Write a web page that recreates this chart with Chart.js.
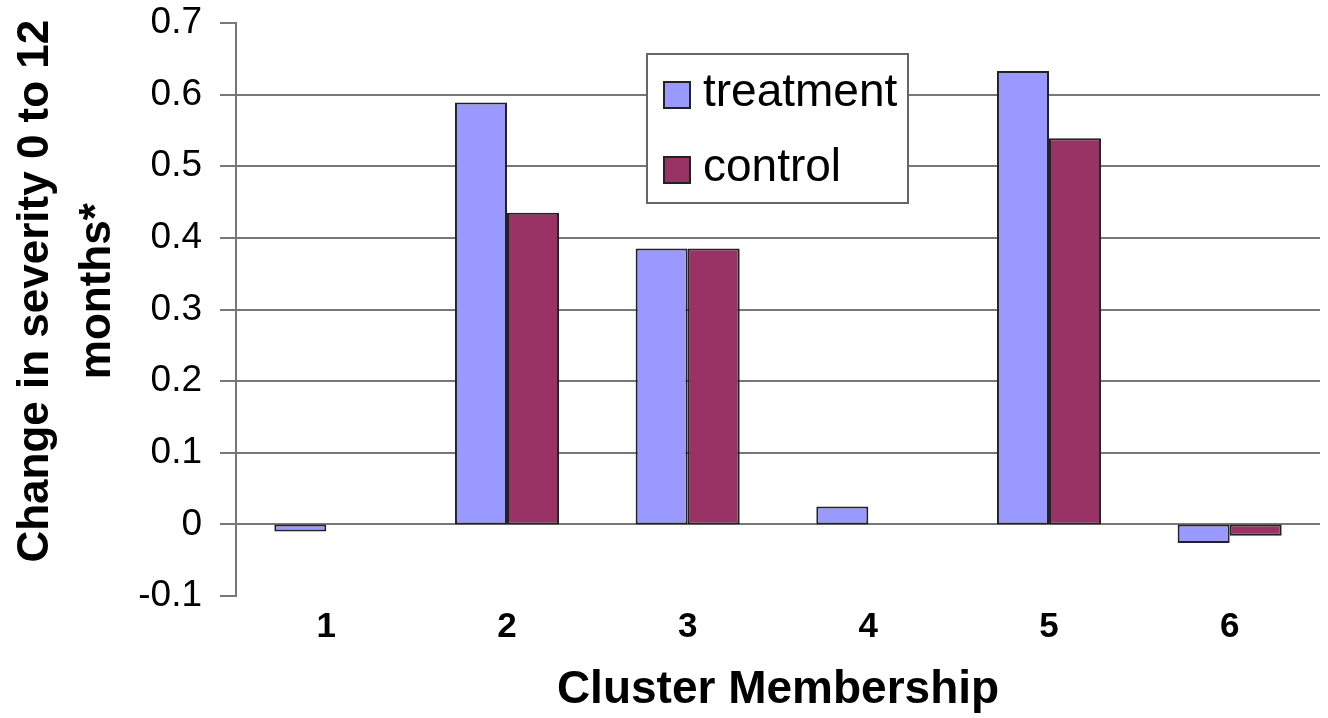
<!DOCTYPE html>
<html>
<head>
<meta charset="utf-8">
<script src="https://cdn.jsdelivr.net/npm/chart.js@4/dist/chart.umd.min.js"></script>
<style>
  html, body { margin: 0; padding: 0; background: #fff; }
  #wrap { width: 1328px; height: 718px; }
</style>
</head>
<body>
<div id="wrap"><canvas id="barChart" width="1328" height="718"></canvas></div>
<script>
const clusters = ['1', '2', '3', '4', '5', '6'];
const treatment = [-0.01, 0.589, 0.385, 0.025, 0.633, -0.026];
const control = [0, 0.435, 0.385, 0, 0.539, -0.016];
// leading spaces nudge the rotated title up to where the original sits
const yTitle = ['   Change in severity 0 to 12', '   months*'];
const xTitle = 'Cluster Membership';

const FONT = "'Liberation Sans', Arial, sans-serif";
const GRID = '#777';

// legend box drawn inside the plot, like the original
const boxLegend = {
    id: 'boxLegend',
    afterDraw(chart) {
        const ctx = chart.ctx;
        const x = 647, y = 54, w = 261, h = 149;
        ctx.save();
        ctx.fillStyle = '#fff';
        ctx.fillRect(x, y, w, h);
        ctx.strokeStyle = '#666';
        ctx.lineWidth = 2;
        ctx.strokeRect(x, y, w, h);
        ctx.font = '46px ' + FONT;
        ctx.textBaseline = 'middle';
        chart.data.datasets.forEach((ds, i) => {
            const sy = 82 + i * 75;
            ctx.fillStyle = ds.backgroundColor;
            ctx.fillRect(664, sy, 26, 26);
            ctx.strokeStyle = '#222';
            ctx.lineWidth = 2;
            ctx.strokeRect(664, sy, 26, 26);
            ctx.fillStyle = '#000';
            ctx.fillText(ds.label, 703, sy + 11);
        });
        ctx.restore();
    }
};

const ctxBar = document.getElementById('barChart').getContext('2d');

const barChart = new Chart(ctxBar, {
    type: 'bar',
    data: {
        labels: clusters,
        datasets: [
            {
                label: 'treatment',
                data: treatment,
                backgroundColor: '#9999ff',
                borderColor: '#222',
                borderWidth: c => (c.raw === 0 ? 0 : 2),
                borderSkipped: false
            },
            {
                label: 'control',
                data: control,
                backgroundColor: '#993366',
                borderColor: '#222',
                borderWidth: c => (c.raw === 0 ? 0 : 2),
                borderSkipped: false
            }
        ]
    },
    options: {
        responsive: false,
        animation: false,
        layout: { padding: { top: 23, right: 8, left: 0, bottom: 0 } },
        datasets: {
            bar: { categoryPercentage: 0.576, barPercentage: 1 }
        },
        plugins: {
            legend: { display: false },
            tooltip: { enabled: false }
        },
        scales: {
            x: {
                grid: { display: false, drawTicks: false },
                border: { display: false },
                ticks: {
                    color: '#000',
                    padding: 10,
                    font: { family: FONT, size: 35, weight: 'bold' }
                },
                title: {
                    display: true,
                    text: xTitle,
                    color: '#000',
                    padding: 0,
                    font: { family: FONT, size: 46, weight: 'bold' }
                },
                afterFit: s => { s.height = 122; s.paddingLeft = 0; s.paddingRight = 0; }
            },
            y: {
                min: -0.1,
                max: 0.7,
                ticks: {
                    stepSize: 0.1,
                    color: '#000',
                    padding: 18,
                    font: { family: FONT, size: 37 },
                    callback: v => String(Number(v.toFixed(1)))
                },
                grid: {
                    lineWidth: 2,
                    tickLength: 16,
                    tickColor: GRID,
                    color: c => {
                        const v = Math.round(c.tick.value * 10);
                        return (v === 7 || v === -1) ? 'rgba(0,0,0,0)' : GRID;
                    }
                },
                border: { display: true, color: GRID, width: 2 },
                title: {
                    display: true,
                    text: yTitle,
                    color: '#000',
                    padding: { top: 5, bottom: 0 },
                    font: { family: FONT, size: 44, weight: 'bold', lineHeight: 1.4 }
                },
                afterFit: s => { s.width = 236; s.paddingTop = 0; s.paddingBottom = 0; }
            }
        }
    },
    plugins: [boxLegend]
});
</script>
</body>
</html>
